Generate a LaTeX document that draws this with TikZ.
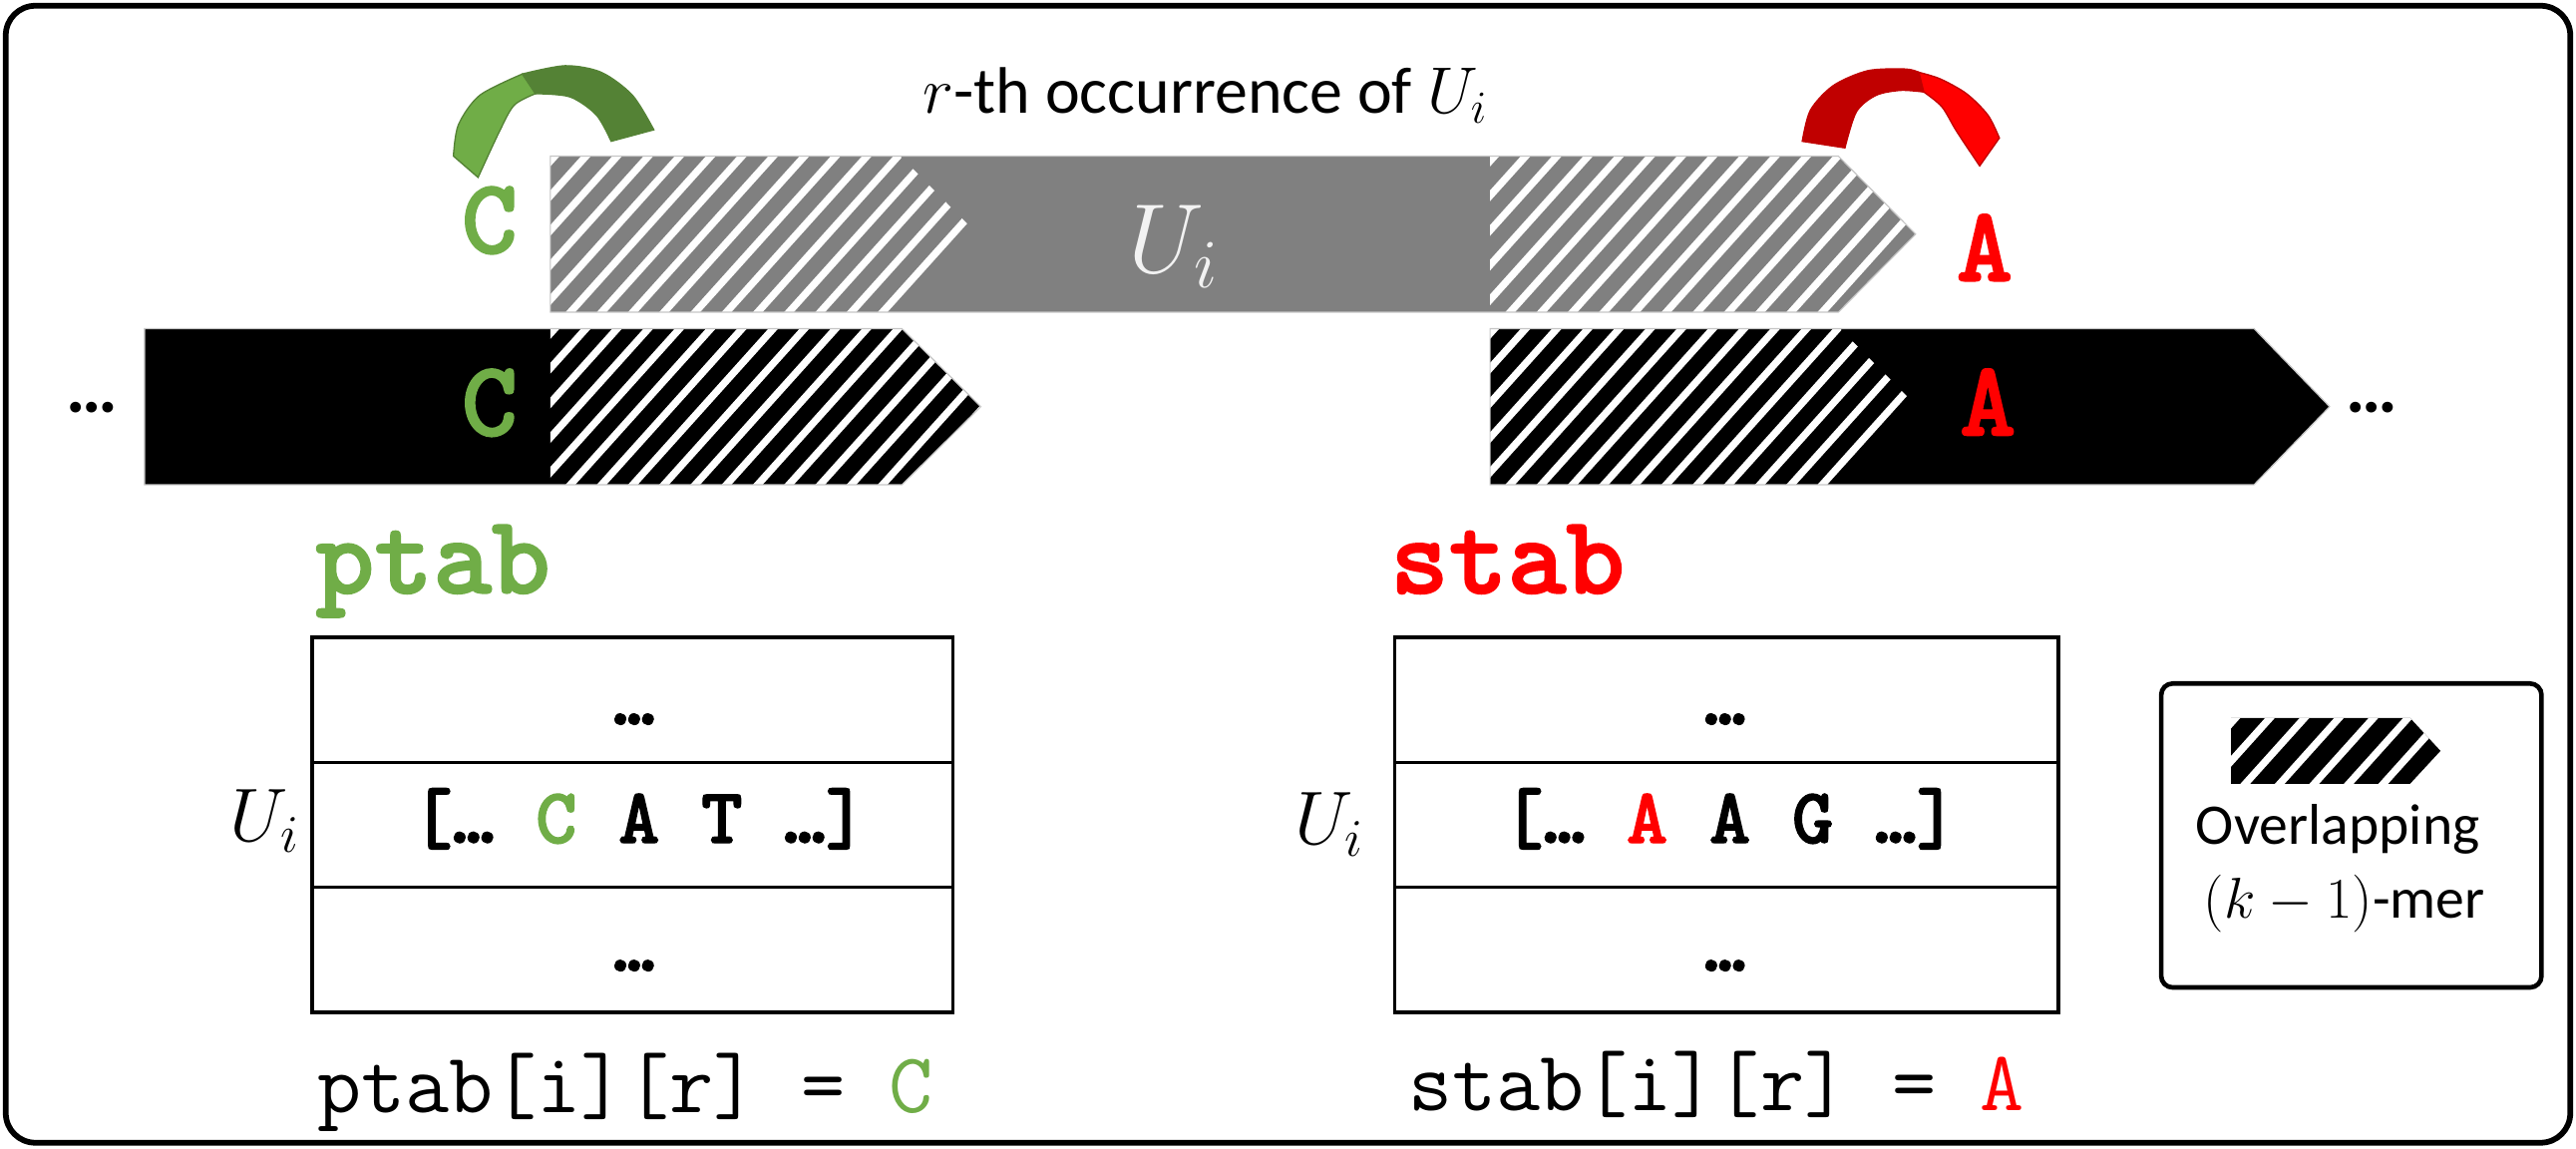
\RequirePackage{fix-cm}
\documentclass[tikz,border=0pt]{standalone}
\usepackage[no-math]{fontspec}
\setmainfont{Carlito}
\newfontfamily\cmonob[FakeBold=1.6]{lmmonolt10-bold.otf}
\definecolor{cgreen}{HTML}{70AD47}
\definecolor{cdgreen}{HTML}{548235}
\definecolor{cred}{HTML}{FF0000}
\definecolor{cdred}{HTML}{C00000}
\definecolor{cgrey}{HTML}{808080}
\definecolor{ulight}{HTML}{F2F2F2}
\newcommand{\hatchstripes}[5]{%
  \pgfmathsetmacro{\hatchH}{(#4-#3)*0.90}%
  \pgfmathtruncatemacro{\hatchN}{(#2-#1+\hatchH)/#5+1}%
  \foreach \k in {0,...,\hatchN}{%
    \draw[hatchline] ({#1-\hatchH+\k*#5},{#4+3}) -- ++({\hatchH+5.4},{-(#4-#3)-6});%
  }%
}
\tikzset{
  hatchline/.style={white, line width=4.4pt},
  frame/.style={line width=3.5pt, rounded corners=18pt},
  tbl/.style={line width=2.2pt},
  barline/.style={draw=gray!45, line width=0.7pt},
  bigletter/.style={font=\cmonob\fontsize{65}{65}\selectfont, inner sep=0pt, anchor=base},
  tabname/.style={font=\cmonob\fontsize{68}{68}\selectfont, inner sep=0pt, anchor=base west},
  tcell/.style={font=\cmonob\fontsize{48}{48}\selectfont, inner sep=0pt, anchor=base},
  formula/.style={font=\ttfamily\fontsize{52}{52}\selectfont, inner sep=0pt, anchor=base west},
  rowlabel/.style={font=\fontsize{46}{46}\selectfont, inner sep=0pt, anchor=base},
  dots/.style={font=\bfseries\fontsize{44}{44}\selectfont, inner sep=0pt, anchor=base},
  legtext/.style={font=\fontsize{35}{35}\selectfont, inner sep=0pt, anchor=base},
}
\begin{document}
\begin{tikzpicture}[x=1pt,y=-1pt]
\useasboundingbox (0,0) rectangle (1568,699);
\draw[frame] (3.5,3.5) rectangle (1564.5,695.5);

% title
\node[font=\fontsize{40}{40}\selectfont, inner sep=0pt, anchor=base] (title) at (733.5,68.7) {$r$-th occurrence of $U_i$};

% green ribbon
\fill[cgreen, draw=cdgreen, line width=0.8pt] plot[smooth] coordinates {(276,95) (279,76) (292,58) (318,45)}
  -- plot[smooth] coordinates {(326,57) (313,64) (304,80) (291,108)} -- cycle;
\fill[cdgreen, draw=cdgreen, line width=0.8pt] plot[smooth] coordinates {(318,45) (344,40) (366,44) (385,58) (398,79)}
  -- plot[smooth] coordinates {(372,86) (363,70) (347,59) (326,57)} -- cycle;

% red ribbon
\fill[cdred, draw=cdred, line width=0.8pt] plot[smooth] coordinates {(1097,86) (1102,67) (1116,52) (1137,43) (1160,42) (1168,44)}
  -- plot[smooth] coordinates {(1171,56) (1157,55) (1142,58) (1130,68) (1123,90)} -- cycle;
\fill[cred, draw=cdred, line width=0.8pt] plot[smooth] coordinates {(1168,44) (1181,48) (1197,57) (1210,70) (1217,84)}
  -- (1205,101) -- plot[smooth] coordinates {(1205,101) (1191,80) (1182,65) (1171,56)} -- cycle;

% grey bar (r-th occurrence of U_i)
\fill[cgrey] (335,95) -- (1119,95) -- (1166,142.5) -- (1119,190) -- (335,190) -- cycle;
\begin{scope}
  \clip (335,95) -- (548,95) -- (595,142.5) -- (548,190) -- (335,190) -- cycle;
  \hatchstripes{335}{595}{95}{190}{19}
\end{scope}
\begin{scope}
  \clip (907,95) -- (1119,95) -- (1166,142.5) -- (1119,190) -- (907,190) -- cycle;
  \hatchstripes{907}{1166}{95}{190}{19}
\end{scope}
\draw[barline] (335,95) -- (1119,95) -- (1166,142.5) -- (1119,190) -- (335,190) -- cycle;
\node[font=\fontsize{60}{60}\selectfont, text=ulight, inner sep=0pt] (ubar) at (714,150) {$U_i$};

% black bars
\fill[black] (88,200) -- (549,200) -- (597,247.5) -- (549,295) -- (88,295) -- cycle;
\begin{scope}
  \clip (335,200) -- (549,200) -- (597,247.5) -- (549,295) -- (335,295) -- cycle;
  \hatchstripes{335}{597}{200}{295}{19}
\end{scope}
\draw[barline] (88,200) -- (549,200) -- (597,247.5) -- (549,295) -- (88,295) -- cycle;
\fill[black] (907,200) -- (1372,200) -- (1418,247.5) -- (1372,295) -- (907,295) -- cycle;
\begin{scope}
  \clip (907,200) -- (1120,200) -- (1167,247.5) -- (1120,295) -- (907,295) -- cycle;
  \hatchstripes{907}{1167}{200}{295}{19}
\end{scope}
\draw[barline] (907,200) -- (1372,200) -- (1418,247.5) -- (1372,295) -- (907,295) -- cycle;

\node[dots] (dl) at (56,251) {…};
\node[dots] (dr) at (1444,251) {…};

% letters
\node[bigletter, text=cgreen] (ctop) at (298,154) {C};
\node[bigletter, text=cred] (atop) at (1208,171) {A};
\node[bigletter, text=cgreen] (cbar) at (298,265) {C};
\node[bigletter, text=cred] (abar) at (1210,265) {A};

% ptab
\node[tabname, text=cgreen] (ptab) at (192,361) {ptab};
\draw[tbl] (190,388) rectangle (580,616);
\draw[tbl] (190,464) -- (580,464);
\draw[tbl] (190,540) -- (580,540);
\node[tcell] (p1) at (386,441) {…};
\node[tcell] (p2) at (389,513) {[… \textcolor{cgreen}{C} A T …]};
\node[tcell] (p3) at (386,591) {…};
\node[rowlabel] (pu) at (161,512) {$U_i$};
\node[formula] (pf) at (193,677) {ptab[i][r] = \textcolor{cgreen}{C}};

% stab
\node[tabname, text=cred] (stab) at (846,361) {stab};
\draw[tbl] (849,388) rectangle (1253,616);
\draw[tbl] (849,464) -- (1253,464);
\draw[tbl] (849,540) -- (1253,540);
\node[tcell] (s1) at (1050,441) {…};
\node[tcell] (s2) at (1053,513) {[… \textcolor{cred}{A} A G …]};
\node[tcell] (s3) at (1050,591) {…};
\node[rowlabel] (su) at (809,514) {$U_i$};
\node[formula] (sf) at (857,676) {stab[i][r] = \textcolor{cred}{A}};

% legend
\draw[line width=2.8pt, rounded corners=7pt] (1315.5,416) rectangle (1547,601);
\fill[black] (1358,437) -- (1467,437) -- (1485.5,457) -- (1467,477) -- (1358,477) -- cycle;
\begin{scope}
  \clip (1358,437) -- (1467,437) -- (1485.5,457) -- (1467,477) -- (1358,477) -- cycle;
  \hatchstripes{1358}{1486}{437}{477}{21}
\end{scope}
\node[legtext] (lg1) at (1423,514) {Overlapping};
\node[legtext] (lg2) at (1427,558.6) {$(k-1)$-mer};
\end{tikzpicture}
\end{document}
